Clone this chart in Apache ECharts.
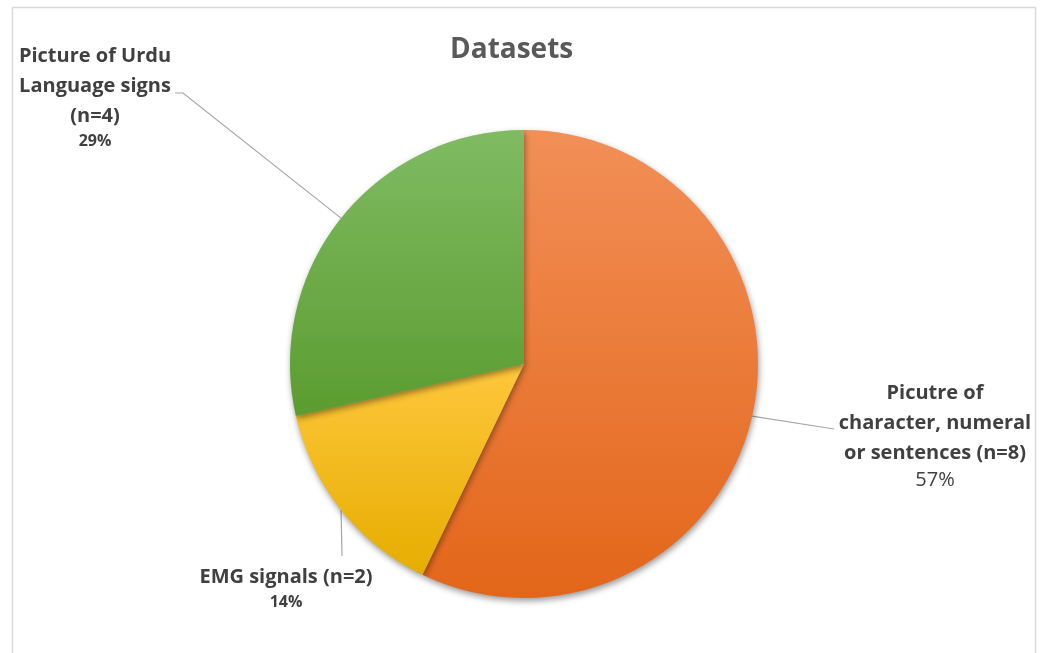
<!DOCTYPE html>
<html>
<head>
<meta charset="utf-8">
<script src="https://cdn.jsdelivr.net/npm/echarts@6/dist/echarts.min.js"></script>
<style>
  html, body { margin: 0; padding: 0; background: #fff; }
  #main { width: 1043px; height: 653px; }
</style>
</head>
<body>
<div id="main"></div>
<script>
// data
var categories = [
    'Picutre of\ncharacter, numeral\nor sentences (n=8)',
    'EMG signals (n=2)',
    'Picture of Urdu\nLanguage signs\n(n=4)'
];
var counts = [8, 2, 4];

// gradient colours (top, bottom) for each slice
var sliceColors = [
    ['#f28f57', '#e3661a'],
    ['#ffc73c', '#e6ad00'],
    ['#80bb63', '#5b9c30']
];
// where each label sits, and the bend of its leader line
var labelSpots = [
    { x: 935, y: 378, end: [834, 429], bend: null },
    { x: 286, y: 562, end: [342, 556], bend: null },
    { x: 95, y: 41, end: [175, 93], bend: [183, 93] }
];
var pctStyle = ['pn', 'pb', 'pb'];

var myChart = echarts.init(document.getElementById('main'));

var pieData = [];
for (var i = 0; i < counts.length; i++) {
    pieData.push({
        name: categories[i],
        value: counts[i],
        itemStyle: {
            color: {
                type: 'linear', x: 0, y: 0, x2: 0, y2: 1,
                colorStops: [
                    { offset: 0, color: sliceColors[i][0] },
                    { offset: 1, color: sliceColors[i][1] }
                ]
            }
        }
    });
}

var option = {
    backgroundColor: '#fff',
    animation: false,
    title: {
        text: 'Datasets',
        left: 445,
        top: 31,
        textStyle: {
            fontFamily: 'Open Sans',
            fontSize: 28,
            fontWeight: 'bold',
            color: '#595959'
        }
    },
    graphic: [{
        type: 'rect',
        shape: { x: 12.5, y: 7.5, width: 1023, height: 700 },
        style: { fill: null, stroke: '#d9d9d9', lineWidth: 1.5 },
        silent: true
    }],
    series: [{
        type: 'pie',
        center: [524, 364],
        radius: 234,
        startAngle: 90,
        clockwise: true,
        percentPrecision: 0,
        data: pieData,
        itemStyle: {
            shadowBlur: 6,
            shadowOffsetX: 1,
            shadowOffsetY: 3,
            shadowColor: 'rgba(0,0,0,0.4)'
        },
        label: {
            show: true,
            position: 'outside',
            formatter: function (p) {
                var lines = p.name.split('\n');
                var s = lines.map(function (l) { return '{n|' + l + '}'; }).join('\n');
                return s + '\n{' + pctStyle[p.dataIndex] + '|' + p.percent + '%}';
            },
            rich: {
                n: { fontFamily: 'Open Sans', fontSize: 20, fontWeight: 'bold', color: '#404040', lineHeight: 30, align: 'center' },
                pb: { fontFamily: 'Open Sans', fontSize: 16, fontWeight: 'bold', color: '#404040', lineHeight: 20, align: 'center' },
                pn: { fontFamily: 'Open Sans', fontSize: 20, color: '#404040', lineHeight: 24, align: 'center' }
            }
        },
        labelLine: {
            show: true,
            lineStyle: { color: '#a6a6a6', width: 1.2 }
        },
        labelLayout: function (p) {
            var spot = labelSpots[p.dataIndex];
            var pts = [p.labelLinePoints[0]];
            if (spot.bend) pts.push(spot.bend);
            pts.push(spot.end);
            return {
                x: spot.x,
                y: spot.y,
                align: 'center',
                verticalAlign: 'top',
                labelLinePoints: pts
            };
        }
    }]
};

myChart.setOption(option);
</script>
</body>
</html>
